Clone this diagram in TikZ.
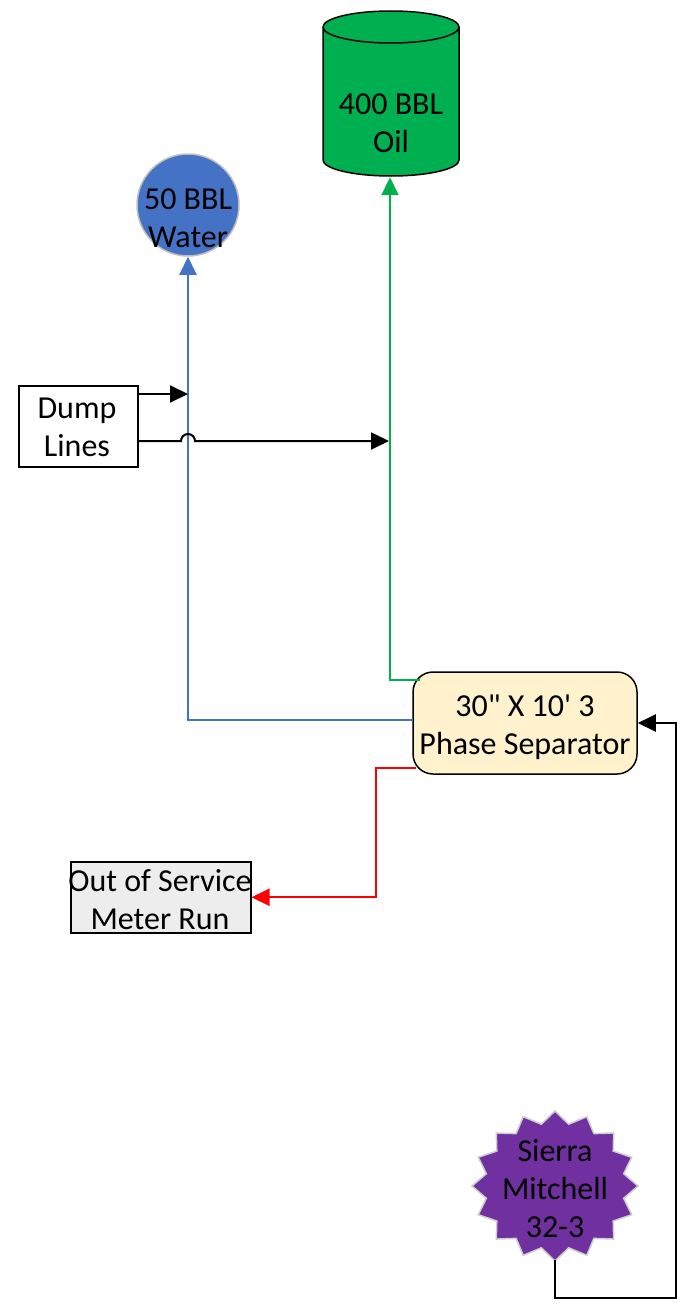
\documentclass[tikz,border=0pt]{standalone}
\usepackage{fontspec}
\setmainfont{Carlito}[Ligatures=TeXOff]
\usetikzlibrary{arrows.meta,calc}
\definecolor{oilgreen}{HTML}{00B050}
\definecolor{wblue}{HTML}{4472C4}
\definecolor{sepfill}{HTML}{FFF2CC}
\definecolor{oosfill}{HTML}{EDEDED}
\definecolor{wellpurple}{HTML}{7030A0}
\tikzset{
  txt/.style={font=\fontsize{32}{38}\selectfont, align=center, inner sep=0},
  conn/.style={line width=2pt, -{Triangle[length=18pt,width=17pt]}},
  plain/.style={line width=2pt},
  boxed/.style={draw=black, line width=1.5pt, inner sep=0, anchor=north west}
}
\begin{document}
\begin{tikzpicture}[x=1pt,y=-1pt]
\useasboundingbox (0,0) rectangle (677,1306);
% Oil tank (cylinder)
\filldraw[fill=oilgreen, draw=black, line width=1.5pt]
  (323,27) -- (323,160) arc[start angle=180,end angle=360,x radius=68pt,y radius=16pt]
  -- (459,27) arc[start angle=0,end angle=180,x radius=68pt,y radius=16pt] -- cycle;
\draw[black, line width=1.5pt] (323,27) arc[start angle=180,end angle=360,x radius=68pt,y radius=16pt];
\node[minimum width=136pt, minimum height=166pt, inner sep=0] (oil) at (390,94) {};
\node[txt] (oiltxt) at (391,123) {400 BBL\\Oil};
% Water tank
\node[circle, fill=wblue, draw=black!25, line width=1.5pt, minimum size=102pt, inner sep=0] (water) at (188,205) {};
\node[txt] (watertxt) at (188,218) {50 BBL\\Water};
% Dump lines
\node[boxed, minimum width=119pt, minimum height=81pt] (dump) at (18,385) {};
\node[txt] (dumptxt) at (77,427) {Dump\\Lines};
% Separator
\node[draw=black, line width=1.5pt, fill=sepfill, rounded corners=20pt, minimum width=224pt, minimum height=102pt, inner sep=0] (sep) at (525,723) {};
\node[txt] (septxt) at (525,727) {30" X 10' 3\\Phase Separator};
% Out of service
\node[boxed, fill=oosfill, minimum width=180pt, minimum height=71pt] (oos) at (70,861) {};
\node[txt] (oostxt) at (160,900) {Out of Service\\Meter Run};
% Sierra Mitchell star
\filldraw[fill=wellpurple, draw=black!20, line width=1.5pt]
  plot[samples at={0,...,31}] ({555+(mod(\x,2)==0?83:70)*sin(\x*11.25)}, {1186-(mod(\x,2)==0?75:63)*cos(\x*11.25)}) -- cycle;
\node[circle, minimum size=148pt, inner sep=0] (sierra) at (555,1186) {};
\node[txt] (sierratxt) at (555,1189) {Sierra\\Mitchell\\32-3};
% connectors
\coordinate (gstart) at (420,680);
\coordinate (bstart) at (413,720);
\coordinate (rstart) at (416,768);
\coordinate (rbend) at (376,768);
\coordinate (kbend) at (676,1298);
\draw[conn, oilgreen] (gstart) -| (oil.south);
\draw[conn, wblue] (bstart) -| (water.south);
\draw[conn, red] (rstart) -- (rbend) |- (oos.east);
\draw[conn, black] (sierra.south) |- (kbend) |- (sep.east);
\draw[conn, black] (dump.east |- 0,394) -- (188,394);
\draw[conn, black] (dump.east |- 0,441) -- (181,441) arc[start angle=180,end angle=0,radius=7pt] -- (389,441);
\end{tikzpicture}
\end{document}
